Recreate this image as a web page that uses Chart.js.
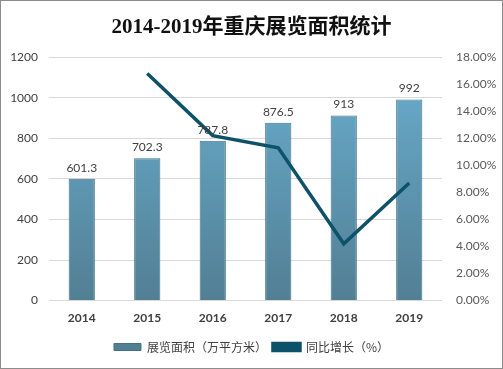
<!DOCTYPE html>
<html>
<head>
<meta charset="utf-8">
<script src="https://cdn.jsdelivr.net/npm/chart.js@4"></script>
<style>
  html, body { margin: 0; padding: 0; background: #fff; }
  #wrap { position: relative; width: 501px; height: 367px; border: 1px solid #8c8c8c; }
</style>
</head>
<body>
<div id="wrap"><canvas id="c"></canvas></div>
<script>
// 数据
const years = ["2014", "2015", "2016", "2017", "2018", "2019"];
const areaValues = [601.3, 702.3, 787.8, 876.5, 913, 992];
const growthValues = [null, 16.8, 12.2, 11.3, 4.2, 8.7];
const leftTicks = [0, 200, 400, 600, 800, 1000, 1200];
const rightTicks = [0, 2, 4, 6, 8, 10, 12, 14, 16, 18];

const numFont = "Lato, 'Liberation Sans', sans-serif";
const cjkFont = "'Noto Sans CJK SC', sans-serif";

// 柱子渐变
function barGradient(ctx) {
  const area = ctx.chart.chartArea;
  if (!area) return "#5f9fbd";
  const g = ctx.chart.ctx.createLinearGradient(0, area.top, 0, area.bottom);
  g.addColorStop(0, "#6aaecf");
  g.addColorStop(1, "#527f94");
  return g;
}

// 柱顶数值标签
const barLabels = {
  id: "barLabels",
  afterDatasetsDraw(chart) {
    const ctx = chart.ctx;
    const meta = chart.getDatasetMeta(1);
    ctx.save();
    ctx.font = "12px " + numFont;
    ctx.fillStyle = "#404040";
    ctx.textAlign = "center";
    ctx.textBaseline = "bottom";
    meta.data.forEach((bar, i) => {
      ctx.fillText(String(areaValues[i]), bar.x, bar.y - 5);
    });
    ctx.restore();
  }
};

new Chart(document.getElementById("c"), {
  data: {
    labels: years,
    datasets: [
      {
        type: "line",
        label: "同比增长（%）",
        data: growthValues,
        yAxisID: "y2",
        borderColor: "#0d5269",
        backgroundColor: "#0d5269",
        borderWidth: 3.5,
        pointRadius: 0,
        tension: 0,
        order: 0
      },
      {
        type: "bar",
        label: "展览面积（万平方米）",
        data: areaValues,
        yAxisID: "y",
        backgroundColor: barGradient,
        borderColor: "#3f7389",
        borderWidth: 1,
        barPercentage: 0.4,
        categoryPercentage: 1,
        order: 1
      }
    ]
  },
  options: {
    responsive: true,
    maintainAspectRatio: false,
    animation: false,
    layout: { padding: { left: 0, right: 0, top: 0, bottom: 5 } },
    plugins: {
      title: {
        display: true,
        text: "2014-2019年重庆展览面积统计",
        color: "#111",
        font: { family: "'Liberation Serif', 'Noto Sans CJK SC', serif", size: 21, weight: "bold" },
        padding: { top: 14, bottom: 17 }
      },
      legend: {
        position: "bottom",
        reverse: true,
        labels: {
          boxWidth: 27,
          boxHeight: 7,
          color: "#404040",
          font: { family: cjkFont, size: 12 },
          padding: 6
        }
      },
      tooltip: { enabled: false }
    },
    scales: {
      x: {
        grid: { display: false, drawTicks: false },
        border: { display: false },
        ticks: { color: "#404040", font: { family: numFont, size: 12, weight: "bold" }, padding: 10 }
      },
      y: {
        position: "left",
        min: 0,
        max: 1200,
        afterBuildTicks: s => { s.ticks = leftTicks.map(v => ({ value: v })); },
        afterFit: s => { s.width = 48; },
        grid: { color: "#d9d9d9", drawTicks: false },
        border: { display: false },
        ticks: { color: "#404040", font: { family: numFont, size: 12 }, padding: 11, callback: v => String(v) }
      },
      y2: {
        position: "right",
        min: 0,
        max: 18,
        afterBuildTicks: s => { s.ticks = rightTicks.map(v => ({ value: v })); },
        afterFit: s => { s.width = 60; },
        grid: { display: false, drawTicks: false },
        border: { display: false },
        ticks: {
          color: "#595959",
          font: { family: numFont, size: 12 },
          padding: 14,
          callback: v => v.toFixed(2) + "%"
        }
      }
    }
  },
  plugins: [barLabels]
});
</script>
</body>
</html>
